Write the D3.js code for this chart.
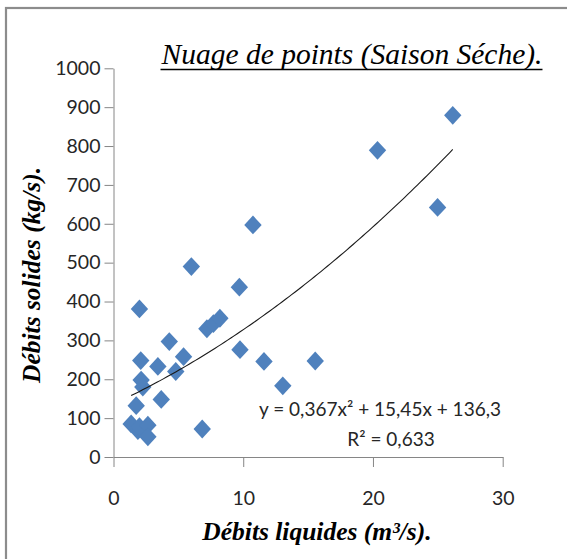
<!DOCTYPE html>
<html><head><meta charset="utf-8">
<script src="https://cdn.jsdelivr.net/npm/d3@7"></script>
<style>html,body{margin:0;padding:0;background:#fff;}svg{display:block;}</style>
</head><body>
<svg id="chart" width="567" height="559"></svg>
<script>
const titleText = "Nuage de points (Saison Séche).";
const xLabel = "Débits liquides (m³/s).";
const yLabel = "Débits solides (kg/s).";
const xTicks = [0, 10, 20, 30];
const yTicks = [0, 100, 200, 300, 400, 500, 600, 700, 800, 900, 1000];
const debitsLiquides = [1.36, 1.88, 2.0, 2.65, 2.65, 1.75, 2.26, 2.13, 2.1, 2.0, 3.42, 3.68, 4.3, 4.8, 5.4, 6.0, 6.84, 7.2, 7.7, 8.2, 9.7, 9.75, 10.75, 11.6, 13.05, 15.55, 20.35, 24.98, 26.15];
const debitsSolides  = [85, 68, 78, 82, 52, 132, 180, 198, 248, 381, 233, 148, 297, 220, 258, 490, 72, 330, 343, 357, 437, 276, 597, 246, 183, 247, 789, 642, 879];
const trendCoef = [0.367, 15.45, 136.3]; // a x² + b x + c
const eqText = "y = 0,367x² + 15,45x + 136,3";
const r2Text = "R² = 0,633";

const svg = d3.select("#chart");
const x = d3.scaleLinear().domain([0, 30]).range([113.5, 502.7]);
const y = d3.scaleLinear().domain([0, 1000]).range([457, 68.3]);
const axisColor = "#868686";
const tickFont = "Lato, 'Open Sans', sans-serif";

// outer frame
svg.append("rect").attr("x", 6).attr("y", 8).attr("width", 580).attr("height", 580)
  .attr("fill", "none").attr("stroke", "#8c8c8c").attr("stroke-width", 2.2);

// axes
const yAxis = d3.axisLeft(y).tickValues(yTicks).tickFormat(d3.format("d")).tickSize(9).tickPadding(4).tickSizeOuter(0);
const gy = svg.append("g").attr("transform", `translate(${x(0)},0)`).call(yAxis);
const xAxis = d3.axisBottom(x).tickValues(xTicks).tickFormat(d3.format("d")).tickSize(10).tickPadding(24).tickSizeOuter(0);
const gx = svg.append("g").attr("transform", `translate(0,${y(0)})`).call(xAxis);
[gx, gy].forEach(g => {
  g.select(".domain").attr("stroke", axisColor);
  g.selectAll(".tick line").attr("stroke", axisColor);
  g.selectAll(".tick text").attr("fill", "#262626").style("font-family", tickFont).style("font-size", "19.5px");
});

// points
const pts = debitsLiquides.map((d, i) => ({ q: d, s: debitsSolides[i] }));
const rx = 8.7, ry = 9.4;
svg.append("g").selectAll("path").data(pts).join("path")
  .attr("d", `M0,${-ry}L${rx},0L0,${ry}L${-rx},0Z`)
  .attr("transform", d => `translate(${x(d.q)},${y(d.s)})`)
  .attr("fill", "#4F81BD");

// trend line (polynomial order 2, coefficients from chart label)
const xmin = d3.min(debitsLiquides), xmax = d3.max(debitsLiquides);
const curve = d3.range(0, 101).map(i => {
  const t = xmin + (xmax - xmin) * i / 100;
  return [t, trendCoef[0] * t * t + trendCoef[1] * t + trendCoef[2]];
});
svg.append("path").datum(curve)
  .attr("d", d3.line().x(d => x(d[0])).y(d => y(d[1])))
  .attr("fill", "none").attr("stroke", "#1a1a1a").attr("stroke-width", 1.1);

// equation
svg.append("text").attr("x", 380).attr("y", 416).attr("text-anchor", "middle")
  .style("font-family", tickFont).style("font-size", "19px").attr("fill", "#262626").text(eqText);
svg.append("text").attr("x", 391).attr("y", 446).attr("text-anchor", "middle")
  .style("font-family", tickFont).style("font-size", "19px").attr("fill", "#262626").text(r2Text);

// title
const serif = "'Liberation Serif', 'Times New Roman', serif";
const tt = svg.append("text").attr("x", 352).attr("y", 64).attr("text-anchor", "middle")
  .style("font-family", serif).style("font-style", "italic").style("font-size", "29.5px")
  .attr("fill", "#000").text(titleText);
const tb = tt.node().getBBox();
svg.append("line").attr("x1", tb.x).attr("x2", tb.x + tb.width).attr("y1", 69.5).attr("y2", 69.5)
  .attr("stroke", "#000").attr("stroke-width", 1.6);

// axis titles
svg.append("text").attr("x", 317).attr("y", 540).attr("text-anchor", "middle")
  .style("font-family", serif).style("font-style", "italic").style("font-weight", "bold").style("font-size", "25.5px")
  .attr("fill", "#000").text(xLabel);
svg.append("text").attr("transform", "translate(40,275) rotate(-90)").attr("text-anchor", "middle")
  .style("font-family", serif).style("font-style", "italic").style("font-weight", "bold").style("font-size", "25.5px")
  .attr("fill", "#000").text(yLabel);
</script>
</body></html>
